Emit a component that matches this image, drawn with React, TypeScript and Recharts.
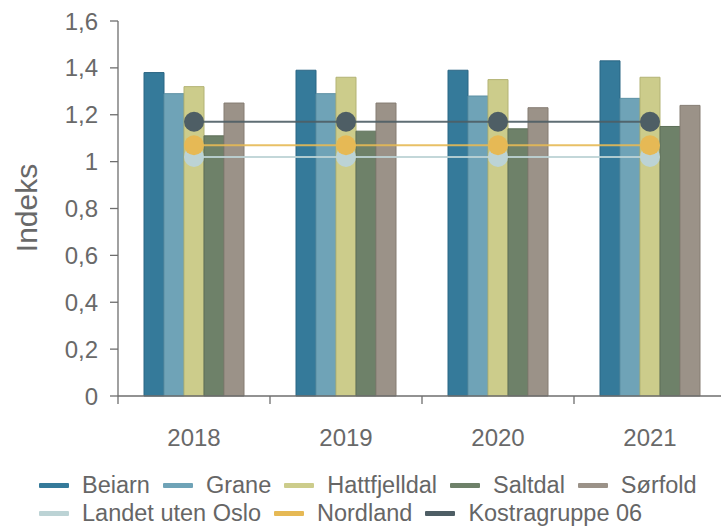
import React from 'react';
import {ComposedChart, Bar, Line, XAxis, YAxis, Legend} from 'recharts';

const years = ['2018', '2019', '2020', '2021'];

const beiarn = [1.38, 1.39, 1.39, 1.43];
const grane = [1.29, 1.29, 1.28, 1.27];
const hattfjelldal = [1.32, 1.36, 1.35, 1.36];
const saltdal = [1.11, 1.13, 1.14, 1.15];
const sorfold = [1.25, 1.25, 1.23, 1.24];
const landetUtenOslo = [1.02, 1.02, 1.02, 1.02];
const nordland = [1.07, 1.07, 1.07, 1.07];
const kostragruppe = [1.17, 1.17, 1.17, 1.17];

const yTicks = [0, 0.2, 0.4, 0.6, 0.8, 1, 1.2, 1.4, 1.6];

const data = years.map((year, i) => ({
    year,
    beiarn: beiarn[i],
    grane: grane[i],
    hattfjelldal: hattfjelldal[i],
    saltdal: saltdal[i],
    sorfold: sorfold[i],
    landet: landetUtenOslo[i],
    nordland: nordland[i],
    kostra: kostragruppe[i],
}));

const BARS = [
    {key: 'beiarn', name: 'Beiarn', fill: '#357a9a', stroke: '#2b6684'},
    {key: 'grane', name: 'Grane', fill: '#6fa3b7', stroke: '#5d90a4'},
    {key: 'hattfjelldal', name: 'Hattfjelldal', fill: '#cccc8b', stroke: '#b3b374'},
    {key: 'saltdal', name: 'Saltdal', fill: '#6e8169', stroke: '#5d6f58'},
    {key: 'sorfold', name: 'Sørfold', fill: '#9b9288', stroke: '#857c72'},
];

const LINES = [
    {key: 'landet', name: 'Landet uten Oslo', color: '#bcd3d5'},
    {key: 'nordland', name: 'Nordland', color: '#e6b955'},
    {key: 'kostra', name: 'Kostragruppe 06', color: '#4e5e65'},
];

const FONT = '"Liberation Sans", Arial, sans-serif';
const TEXT = '#696969';
const AXIS = '#6e6e6e';

const CHART_W = 730;
const CHART_H = 529;
const MARGIN = {top: 21, right: 4, left: 0, bottom: 73};
const Y_W = 118;
const BAND = (CHART_W - MARGIN.left - MARGIN.right - Y_W) / years.length;

const fmt = (v: number) => String(v).replace('.', ',');

// category axis: labels in the middle, tick marks on the band edges
const XTick = (props: any) => {
    const {x, y, payload} = props;
    return (
        <g>
            <line x1={x - BAND / 2} x2={x - BAND / 2} y1={y - 8} y2={y} stroke={AXIS} strokeWidth={1.3} />
            <text x={x} y={y + 25} dy="0.71em" textAnchor="middle" fill={TEXT} fontSize={24} fontFamily={FONT}>
                {payload.value}
            </text>
        </g>
    );
};

const LegendContent = () => {
    const items = [
        ...BARS.map(b => ({name: b.name, color: b.fill})),
        ...LINES.map(l => ({name: l.name, color: l.color})),
    ];
    return (
        <div style={{display: 'flex', flexWrap: 'wrap', width: 690, fontFamily: FONT, fontSize: 23.5, color: '#666', lineHeight: '28px'}}>
            {items.map(it => (
                <span key={it.name} style={{display: 'inline-flex', alignItems: 'center', marginRight: 13, whiteSpace: 'nowrap'}}>
                    <span style={{display: 'inline-block', width: 30, height: 5, background: it.color, marginRight: 13, borderRadius: 1}} />
                    {it.name}
                </span>
            ))}
        </div>
    );
};

const YLabel = () => (
    <text x={37} y={208} transform="rotate(-90 37 208)" textAnchor="middle" fill={TEXT} fontSize={30} fontFamily={FONT}>
        Indeks
    </text>
);

export default function App() {
    return (
        <div style={{position: 'absolute', left: 0, top: 0, width: 721, height: 529, overflow: 'hidden', background: '#fff'}}>
            <ComposedChart width={CHART_W} height={CHART_H} data={data} margin={MARGIN} barGap={0} barCategoryGap={0}>
                <XAxis
                    dataKey="year"
                    height={60}
                    axisLine={{stroke: AXIS, strokeWidth: 1.3}}
                    tickLine={false}
                    tick={<XTick />}
                    interval={0}
                />
                <YAxis
                    width={Y_W}
                    domain={[0, 1.6]}
                    ticks={yTicks}
                    tickFormatter={fmt}
                    tickSize={8}
                    tickMargin={12}
                    axisLine={{stroke: AXIS, strokeWidth: 1.3}}
                    tickLine={{stroke: AXIS, strokeWidth: 1.3}}
                    tick={{fill: TEXT, fontSize: 24, fontFamily: FONT}}
                    label={<YLabel />}
                />
                {BARS.map(b => (
                    <Bar key={b.key} dataKey={b.key} name={b.name} fill={b.fill} stroke={b.stroke} strokeWidth={1} barSize={20} isAnimationActive={false} />
                ))}
                {LINES.map(l => (
                    <Line
                        key={l.key}
                        dataKey={l.key}
                        name={l.name}
                        stroke={l.color}
                        strokeWidth={2}
                        strokeOpacity={0.9}
                        dot={{r: 10, fill: l.color, stroke: 'none'}}
                        activeDot={false}
                        isAnimationActive={false}
                    />
                ))}
                <Legend verticalAlign="middle" align="center" layout="horizontal" content={<LegendContent />} wrapperStyle={{top: 471, left: 39, width: 690}} />
            </ComposedChart>
        </div>
    );
}
